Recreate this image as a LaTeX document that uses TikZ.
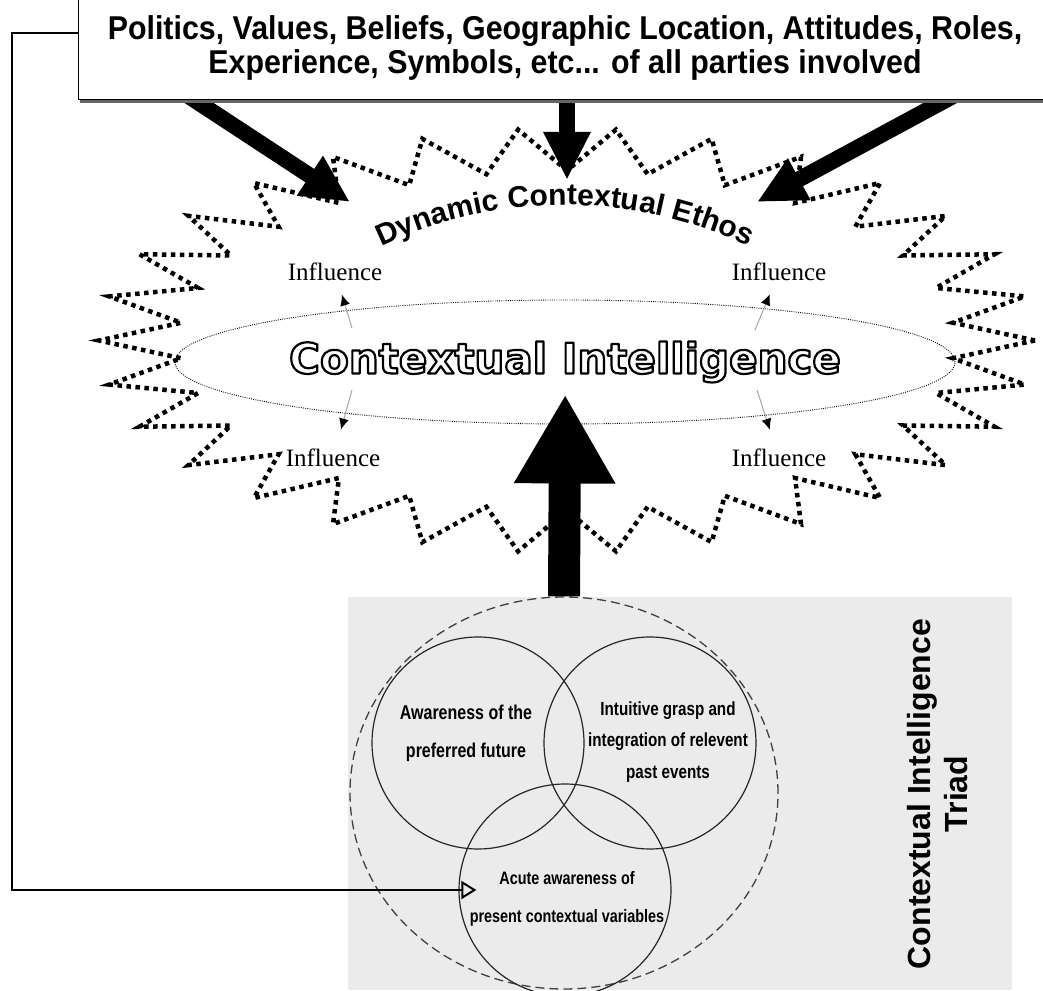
\documentclass[tikz,border=0pt]{standalone}
\usepackage{fontspec}
\setmainfont{Liberation Serif}
\newfontfamily\headsans{Liberation Sans}
\newfontfamily\tallsans{Liberation Sans}[FakeStretch=0.92]
\newfontfamily\narrowsans{Liberation Sans}[FakeStretch=0.8]
\newfontfamily\roundsans{DejaVu Sans}
\usetikzlibrary{arrows.meta,shapes.geometric,shadows,decorations.text,positioning}
\pgfdeclarelayer{back}
\pgfsetlayers{back,main}
\newcommand\outlined[1]{\special{pdf:literal direct 0 G 2.2 w 1 j 2 Tr}#1\special{pdf:literal direct 0 Tr}}
\tikzset{
  burst/.style={line width=4.5pt,dash pattern=on 4.5pt off 4.5pt},
  fatarrow/.style={line width=16pt,-{Triangle[length=48pt,width=44pt]}},
  bigarrow/.style={line width=32pt,-{Triangle[length=89pt,width=95pt]}},
  inflarrow/.style={draw=black!35,line width=1pt,-{Latex[length=11pt,width=10pt,color=black]}},
  infl/.style={font=\fontsize{25}{28}\selectfont,inner sep=2pt},
  ring/.style={circle,draw=black!85,line width=1.2pt,minimum size=212pt,inner sep=0pt},
  triadtxt/.style 2 args={align=center,font=\narrowsans\bfseries\fontsize{#1}{#2}\selectfont},
}

\begin{document}
\begin{tikzpicture}[x=1pt,y=1pt]
   \useasboundingbox (0,0) rectangle (1043,990);
   \begin{pgfonlayer}{back}
   \fill[black!8] (348,0) rectangle (1012,393);
   \draw[burst] (1035,649.5) \foreach \a in {0,12,...,348} {
      -- ({567+388*cos(\a+6)},{649.5+170*sin(\a+6)})
      -- ({567+468*cos(\a+12)},{649.5+212*sin(\a+12)})} -- cycle;
   \end{pgfonlayer}

   \node[ellipse,draw,line width=0.9pt,dash pattern=on 0.9pt off 1.3pt,minimum width=596pt,minimum height=124pt,inner sep=0pt,
         text=white,font=\roundsans\bfseries\fontsize{42}{42}\selectfont] (ci) at (565,628) {\outlined{Contextual Intelligence}};

   \coordinate (ethosL) at (350,727.4);
   \path[decorate,decoration={text along path,text align=center,
         text={|\headsans\bfseries\fontsize{30}{30}\selectfont|Dynamic Contextual Ethos}}]
      (ethosL) arc[start angle=120,end angle=60,radius=430];

   \node[infl] (in1) at (335,718) {Influence};
   \node[infl] (in2) at (779,718) {Influence};
   \node[infl] (in3) at (333,532) {Influence};
   \node[infl] (in4) at (779,532) {Influence};
   \coordinate (t1) at (352,662);
   \coordinate (t2) at (755,660);
   \coordinate (t3) at (352,600);
   \coordinate (t4) at (757,600);
   \draw[inflarrow,shorten >=12pt] (t1) -- (in1);
   \draw[inflarrow,shorten >=12pt] (t2) -- (in2);
   \draw[inflarrow,shorten >=18pt] (t3) -- (in3);
   \draw[inflarrow,shorten >=18pt] (t4) -- (in4);

   \node[draw,line width=1pt,fill=white,minimum width=974pt,minimum height=105pt,align=center,
         font=\tallsans\bfseries\fontsize{33}{34}\selectfont,
         drop shadow={shadow xshift=2pt,shadow yshift=-3pt,fill=black!60,opacity=1}] (factors) at (565,942.5)
      {Politics, Values, Beliefs, Geographic Location, Attitudes, Roles,\\Experience, Symbols, etc... of all parties involved};

   \coordinate (hitL) at (350,788);
   \coordinate (hitM) at (567,810);
   \coordinate (hitR) at (757,788);
   \begin{pgfonlayer}{back}
   \draw[fatarrow] ([xshift=-388pt,yshift=12pt]factors.south) -- (hitL);
   \draw[fatarrow] ([xshift=2pt,yshift=12pt]factors.south) -- (hitM);
   \draw[fatarrow] ([xshift=402pt,yshift=12pt]factors.south) -- (hitR);
   \end{pgfonlayer}

   \node[ellipse,draw=black!75,line width=1.3pt,dash pattern=on 9pt off 5pt,minimum width=428pt,minimum height=392pt] (triad) at (564,197) {};
   \node[ring] (cfut) at (478,247) {};
   \node[ring] (cpast) at (650,247) {};
   \node[ring] (cpres) at (565,100) {};
   \node[triadtxt={20}{38}] (tfut) at (466,257) {Awareness of the\\preferred future};
   \node[triadtxt={19}{31.5}] (tpast) at (668,248) {Intuitive grasp and\\integration of relevent\\past events};
   \node[triadtxt={18}{38}] (tpres) at (567,91) {Acute awareness of\\present contextual variables};
   \node[rotate=90,align=center,font=\headsans\bfseries\fontsize{32}{37}\selectfont] (triadlbl) at (938,196) {Contextual Intelligence\\Triad};

   \draw[bigarrow,shorten >=-30pt] (triad.north) -- (ci.south);
   \draw[line width=2pt,-{Triangle[open,length=15pt,width=18pt]},shorten >=-18pt]
      ([yshift=14.5pt]factors.west) -- ++(-66,0) |- (cpres.west);
\end{tikzpicture}
\end{document}
